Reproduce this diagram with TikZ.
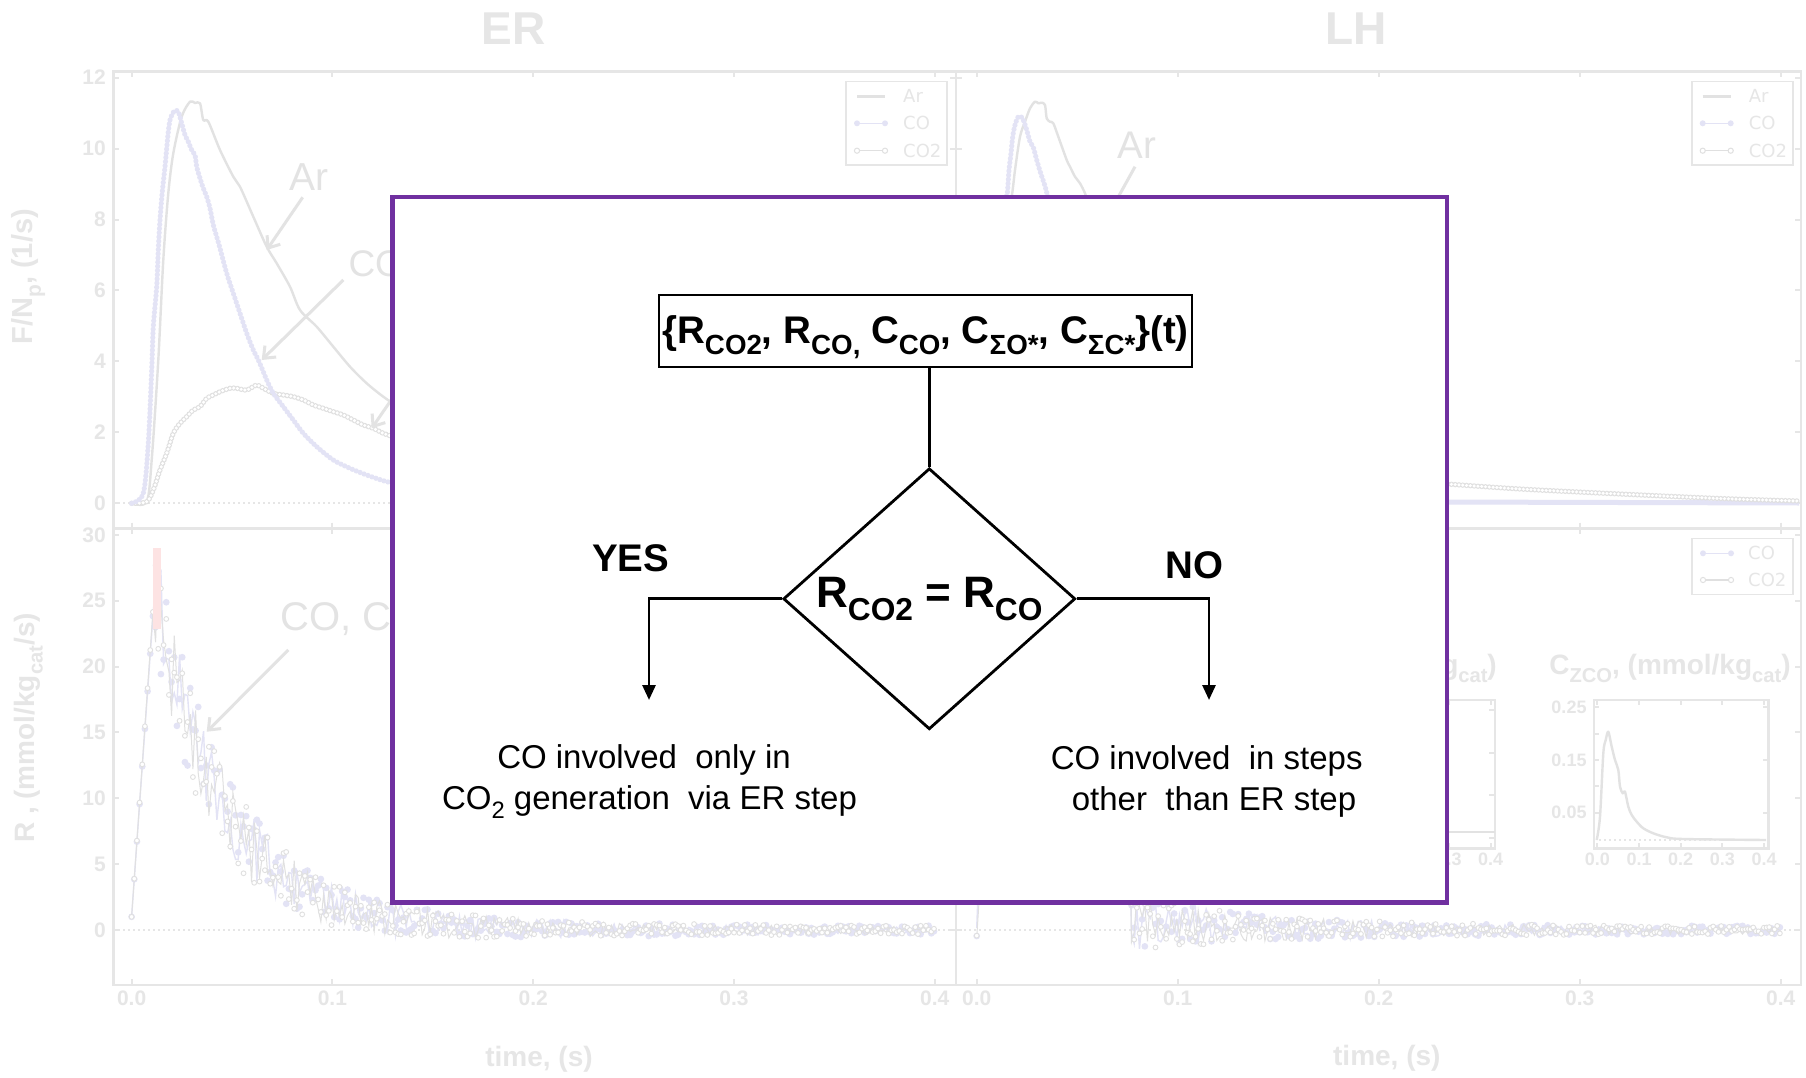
\documentclass[tikz,border=0pt]{standalone}
\usepackage{fontspec}
\usepackage{graphicx}
\setmainfont{Liberation Sans}
\newfontfamily\legendfont{DejaVu Sans}
\usetikzlibrary{arrows.meta,shapes.geometric}

\definecolor{bggray}{HTML}{E6E6E6}
\definecolor{argray}{HTML}{E2E2E2}
\definecolor{colav}{HTML}{E3E3F5}
\definecolor{co2gray}{HTML}{E0E0E0}
\definecolor{annot}{HTML}{E3E3E3}
\definecolor{pinkbar}{HTML}{FDE3E3}
\definecolor{boxpurple}{HTML}{7030A0}

\newcommand\fsz[1]{\fontsize{#1}{#1}\selectfont}
\newcommand\lo[1]{\raisebox{-0.3em}{\scalebox{0.72}{#1}}}

\begin{document}
\begin{tikzpicture}[x=1pt, y=-1pt,
  frame/.style={draw=bggray, line width=2.6pt},
  tk/.style={draw=bggray, line width=2pt},
  tlab/.style={text=bggray, font=\bfseries\fsz{21}, inner sep=0pt},
  axlab/.style={text=bggray, font=\bfseries\fsz{29}, inner sep=0pt},
  zeroline/.style={draw=bggray, line width=2pt, dash pattern=on 1.6pt off 3.4pt},
  arline/.style={draw=argray, line width=2.4pt, line join=round},
  coline/.style={draw=colav, line width=1.4pt},
  co2line/.style={draw=co2gray, line width=1pt},
  codots/.style={postaction={draw=colav, line width=5.2pt, line cap=round, dash pattern=on 0pt off 4.2pt}},
  co2dots/.style={postaction={draw=co2gray, line width=5.4pt, line cap=round, dash pattern=on 0pt off 3.8pt},
                  postaction={draw=white, line width=3.4pt, line cap=round, dash pattern=on 0pt off 3.8pt}},
  annotext/.style={text=annot, inner sep=0pt, anchor=base west},
  annarrow/.style={draw=annot, line width=3pt, -{Straight Barb[length=10pt,width=16pt]}},
  legtext/.style={text=bggray, font=\legendfont\fsz{18}, anchor=west, inner sep=0pt},
  legbox/.style={draw=bggray, line width=1.6pt},
  comark/.style={mark=*, mark size=2.6pt, mark options={fill=colav, draw=colav}},
  co2mark/.style={mark=*, mark size=2.4pt, mark options={fill=white, draw=co2gray, line width=0.9pt}},
  flow/.style={draw=black, line width=2.8pt},
  conn/.style={draw=black, line width=2.8pt},
  tip/.style={-{Triangle[length=15pt,width=13pt]}},
  branch/.style={font=\bfseries\fsz{38.5}, inner sep=0pt, anchor=base},
  outcome/.style={font=\fsz{33}, inner sep=0pt, anchor=base}
]
\useasboundingbox (0,0) rectangle (1806,1078);
\fill[white] (0,0) rectangle (1806,1078);

% ---------- plot titles ----------
\node[text=bggray, font=\bfseries\fsz{46}] (tER) at (513.7,28.8) {ER};
\node[text=bggray, font=\bfseries\fsz{46}] (tLH) at (1355.7,28.8) {LH};

% ---------- frames ----------
\draw[frame] (113.3,71.7) rectangle (1801,984.8);
\draw[frame] (113.3,528.3) -- (1801,528.3);
\draw[frame] (956,71.7) -- (956,984.8);

% y ticks, upper panels
\foreach \v in {0,2,4,6,8,10,12} {
  \pgfmathsetmacro\yy{503.3-35.47*\v}
  \draw[tk] (113.3,\yy) -- (119,\yy);
  \draw[tk] (950,\yy) -- (962,\yy);
  \draw[tk] (1795,\yy) -- (1801,\yy);
  \node[tlab, anchor=east] (yu\v) at (106,\yy) {\v};
}
% y ticks, lower panels
\foreach \v in {0,5,10,15,20,25,30} {
  \pgfmathsetmacro\yy{930-13.17*\v}
  \draw[tk] (113.3,\yy) -- (119,\yy);
  \draw[tk] (950,\yy) -- (962,\yy);
  \draw[tk] (1795,\yy) -- (1801,\yy);
  \node[tlab, anchor=east] (yl\v) at (106,\yy) {\v};
}
% x ticks and labels
\foreach \k/\lab in {0/0.0,1/0.1,2/0.2,3/0.3,4/0.4} {
  \pgfmathsetmacro\xa{131.6+200.8*\k}
  \pgfmathsetmacro\xb{976.7+201*\k}
  \foreach \xx in {\xa,\xb} {
    \draw[tk] (\xx,71.7) -- (\xx,77);
    \draw[tk] (\xx,522.5) -- (\xx,534);
    \draw[tk] (\xx,979) -- (\xx,984.8);
  }
  \node[tlab] (xl\k) at (\xa,998.7) {\lab};
  \node[tlab] (xr\k) at (\xb,998.7) {\lab};
}

% axis titles
\node[axlab, rotate=90] (yaxu) at (28.3,276.7) {F/N\lo{p}, (1/s)};
\node[axlab, rotate=90, font=\bfseries\fsz{28}] (yaxl) at (28.3,728) {R , (mmol/kg\lo{cat}/s)};
\node[axlab, font=\bfseries\fsz{28}] (xaxl) at (539,1059.7) {time, (s)};
\node[axlab, font=\bfseries\fsz{28}] (xaxr) at (1386.8,1058) {time, (s)};

% zero lines
\draw[zeroline] (118,503.3) -- (953,503.3);
\draw[zeroline] (959,503.3) -- (1798,503.3);
\draw[zeroline] (118,930) -- (953,930);
\draw[zeroline] (959,930) -- (1798,930);

% ---------- upper left: Ar, CO, CO2 ----------
\draw[arline] plot[smooth, tension=0.5] coordinates {(131.7,503.3) (146.7,501.7) (151.7,460) (158.3,360) (163.3,260) (168.3,193.3) (173.3,153.3) (181.7,116.7) (190,101.7) (195,103) (200,103.3) (203.3,120) (208.3,121.7) (220,150) (233.3,176.7) (240,186.7) (253.3,216.7) (266.7,246.7) (276.7,263.3) (290,286.7) (300,310) (316.7,326.7) (333.3,346.7) (350,366.7) (366.7,383.3) (383.3,396.7) (400,408) (420,420)};
\draw[co2line, co2dots] plot[smooth, tension=0.5] coordinates {(131.7,503.3) (146.7,501.7) (153.3,490) (160,470) (166.7,453.3) (173.3,433.3) (180,423.3) (186.7,416.7) (193.3,410) (200,406.7) (206.7,398.3) (213.3,395) (220,391.7) (230,388.3) (236.7,388.3) (246.7,390) (256.7,385) (263.3,388.3) (273.3,393.3) (283.3,395) (293.3,396.7) (303.3,400) (313.3,405) (323.3,408.3) (333.3,411.7) (343.3,415) (353.3,420) (363.3,425) (373.3,428.3) (383.3,433.3) (393.3,436.7) (410,441)};
\draw[coline, codots] plot[smooth, tension=0.5] coordinates {(131.7,503.3) (143.3,493.3) (148.3,443.3) (151.7,370) (153.3,326.7) (156.7,286.7) (158.3,250) (160,220) (162.3,191.7) (165,166.7) (166.7,148.3) (168.3,131.7) (170,120) (172.7,113.3) (175,110.7) (178.3,111.7) (181.7,123.3) (185,135) (188.3,141.7) (191.7,150) (195,155) (196.7,166.7) (200,178.3) (203.3,188.3) (206.7,196.7) (210,208.3) (213.3,225) (216.7,236.7) (220,248.3) (226.7,273.3) (233.3,293.3) (240,313.3) (246.7,333.3) (253.3,350) (258.3,360) (263.3,371.7) (266.7,380) (273.3,393.3) (283.3,406.7) (293.3,420) (303.3,433.3) (316.7,446.7) (333.3,460) (350,468.3) (366.7,475) (383.3,480.7) (393.3,483.3) (410,488.3)};

% ---------- upper right: Ar, CO ----------
\draw[arline] plot[smooth, tension=0.5] coordinates {(1005,230) (1011.7,196.7) (1015,170) (1020,136.7) (1025,121.7) (1030,108.3) (1035,101.7) (1038.3,103.3) (1041.7,102.7) (1045,105) (1046.7,118.3) (1050,121.7) (1053.3,123.3) (1058.3,136.7) (1066.7,160) (1070,166.7) (1075,176.7) (1080,183.3) (1085,193.3) (1088.3,203.3) (1095,220)};
\draw[coline, codots] plot[smooth, tension=0.5] coordinates {(1003,225) (1005,200) (1007.3,193.3) (1009,170) (1011,153.3) (1012.7,136.7) (1015,125) (1018.3,116.7) (1021.7,117.3) (1024,121.7) (1026.7,130) (1030,141.7) (1033.3,147.3) (1036.7,160) (1040.7,173.3) (1045,186) (1047.3,195) (1050,203.3) (1054,215)};
\draw[colav, line width=5pt] (1440,502) -- (1799,503);
\draw[co2line, co2dots] plot[smooth] coordinates {(1440,483.5) (1520,489) (1620,494) (1720,498.5) (1798,501)};

% ---------- lower panels: rates ----------
\pgfmathsetseed{31}
\draw[coline, comark] plot[variable=\t, domain=0:0.4, samples=300]
  ({131.6+2008*\t}, {930-13.17*(ifthenelse(\t<0.011, 1+2150*\t, 25.5*exp(-(\t-0.011)/0.035)) + ifthenelse(\t<0.011, 0, (0.3+4.2*exp(-(\t-0.011)/0.08))*rand))});
\draw[co2line, co2mark] plot[variable=\t, domain=0:0.4, samples=300]
  ({131.6+2008*\t}, {930-13.17*(ifthenelse(\t<0.011, 1+2180*\t, 25*exp(-(\t-0.011)/0.035)) + ifthenelse(\t<0.011, 0, (0.3+4.2*exp(-(\t-0.011)/0.08))*rand))});
\draw[coline, comark] plot[variable=\t, domain=0:0.4, samples=300]
  ({976.7+2010*\t}, {930-13.17*(ifthenelse(\t<0.004, 3000*\t, ifthenelse(\t<0.077, 12, 0.6*exp(-(\t-0.077)/0.05))) + ifthenelse(\t<0.077, 1.5, 0.3+1.8*exp(-(\t-0.077)/0.07))*rand)});
\draw[co2line, co2mark] plot[variable=\t, domain=0:0.4, samples=300]
  ({976.7+2010*\t}, {930-13.17*(ifthenelse(\t<0.004, 3000*\t, ifthenelse(\t<0.077, 12, 0.6*exp(-(\t-0.077)/0.05))) + ifthenelse(\t<0.077, 1.5, 0.3+1.8*exp(-(\t-0.077)/0.07))*rand)});
\fill[pinkbar] (153.3,547.7) rectangle (161,629.3);

% ---------- legends ----------
\foreach \bx/\nm in {846/a,1691.7/b} {
  \draw[legbox] (\bx,81.7) rectangle ({\bx+101},165);
  \draw[argray, line width=2.4pt] ({\bx+11},96.4) -- ({\bx+39},96.4);
  \draw[colav, line width=1.4pt] ({\bx+11},123.3) -- ({\bx+39},123.3);
  \fill[colav] ({\bx+11},123.3) circle (3pt) ({\bx+39},123.3) circle (3pt);
  \draw[co2gray, line width=1.2pt] ({\bx+11},150.7) -- ({\bx+39},150.7);
  \filldraw[draw=co2gray, fill=white, line width=1pt] ({\bx+11},150.7) circle (2.6pt) ({\bx+39},150.7) circle (2.6pt);
  \node[legtext] (legAr\nm) at ({\bx+57},96.4) {Ar};
  \node[legtext] (legCO\nm) at ({\bx+57},123.3) {CO};
  \node[legtext] (legCOt\nm) at ({\bx+57},150.7) {CO2};
}
\draw[legbox] (1691.7,538.3) rectangle (1792.7,594.3);
\draw[colav, line width=1.4pt] (1703,553.3) -- (1731,553.3);
\fill[colav] (1703,553.3) circle (3pt) (1731,553.3) circle (3pt);
\draw[co2gray, line width=1.2pt] (1703,580) -- (1731,580);
\filldraw[draw=co2gray, fill=white, line width=1pt] (1703,580) circle (2.6pt) (1731,580) circle (2.6pt);
\node[legtext] (legCOc) at (1748,553.3) {CO};
\node[legtext] (legCOtc) at (1748,580) {CO2};

% ---------- annotations ----------
\node[annotext, font=\fsz{39}] (annAr) at (289.3,190) {Ar};
\coordinate (annArA) at (302.7,197.3);
\coordinate (annArB) at (266.7,250);
\draw[annarrow] (annArA) -- (annArB);
\node[annotext, font=\fsz{37}] (annCO) at (348.3,276.7) {CO};
\coordinate (annCOA) at (343.3,280);
\coordinate (annCOB) at (261.7,360);
\draw[annarrow] (annCOA) -- (annCOB);
\coordinate (annCOtA) at (405.7,378.9);
\coordinate (annCOtB) at (371.7,428.3);
\draw[annarrow] (annCOtA) -- (annCOtB);
\node[annotext, font=\fsz{40}] (annR) at (280,630) {CO, CO\lo{2}};
\coordinate (annRA) at (288.3,650);
\coordinate (annRB) at (206.7,731.7);
\draw[annarrow] (annRA) -- (annRB);
\node[annotext, font=\fsz{38.5}] (annAr2) at (1117.7,158.3) {Ar};
\coordinate (annAr2A) at (1135,166.7);
\coordinate (annAr2B) at (1100,230);
\draw[annarrow] (annAr2A) -- (annAr2B);

% ---------- insets ----------
\draw[frame, line width=2.4pt] (1430,700) -- (1495,700) -- (1495,848.3) -- (1430,848.3);
\foreach \yy in {710,753.3,795,838.3} \draw[tk] (1489,\yy) -- (1495,\yy);
\foreach \xx in {1449,1490.7} {
  \draw[tk] (\xx,700) -- (\xx,705);
  \draw[tk] (\xx,843) -- (\xx,848.3);
}
\draw[draw=argray, line width=2.4pt] (1430,831.7) -- (1495,831.7);
\node[tlab, font=\bfseries\fsz{18}] (inAx3) at (1449,859.3) {0.3};
\node[tlab, font=\bfseries\fsz{18}] (inAx4) at (1490.7,859.3) {0.4};
\node[axlab, anchor=east, font=\bfseries\fsz{28}] (inAt) at (1497,668.3) {(mmol/kg\lo{cat})};

\draw[frame, line width=2.4pt] (1594,700) rectangle (1768.3,848.3);
\foreach \k/\lab in {0/0.0,1/0.1,2/0.2,3/0.3,4/0.4} {
  \pgfmathsetmacro\xx{1597.3+41.7*\k}
  \draw[tk] (\xx,700) -- (\xx,705);
  \draw[tk] (\xx,843) -- (\xx,848.3);
  \node[tlab, font=\bfseries\fsz{18}] (inBx\k) at (\xx,859.3) {\lab};
}
\foreach \yy/\lab/\nm in {707.3/0.25/a,760/0.15/b,812.7/0.05/c} {
  \draw[tk] (1594,\yy) -- (1599,\yy);
  \draw[tk] (1763,\yy) -- (1768.3,\yy);
  \node[tlab, anchor=east, font=\bfseries\fsz{18}] (inBy\nm) at (1586.7,\yy) {\lab};
}
\foreach \yy in {733.7,786.3} \draw[tk] (1594,\yy) -- (1599,\yy);
\draw[zeroline] (1599,840) -- (1766,840);
\draw[arline] plot[smooth, tension=0.5] coordinates {(1596.7,840) (1600,816.7) (1603.3,753.3) (1605.7,740) (1608.3,731.7) (1611.7,746.7) (1615,760) (1618.3,770) (1620,786.7) (1622.7,793.3) (1625,791.7) (1628.3,806.7) (1631.7,815) (1636.7,821.7) (1643.3,828.3) (1653.3,833.3) (1666.7,837.3) (1683.3,839) (1766,840)};
\node[axlab, font=\bfseries\fsz{28}] (inBt) at (1670,668.3) {C\lo{ZCO}, (mmol/kg\lo{cat})};

% ---------- decision panel ----------
\node[draw=boxpurple, fill=white, line width=4.5pt, minimum width=1054.5, minimum height=705.6, inner sep=0pt] (panel) at (919.75,549.8) {};

\node[flow, minimum width=533, minimum height=72, inner sep=0pt, font=\bfseries\fsz{38.5}, text height=25pt, text depth=0.8pt] (src) at (925.5,331)
  {\{R\lo{CO2}, R\lo{CO,} C\lo{CO}, C\lo{ΣO*}, C\lo{ΣC*}\}(t)};
\node[flow, shape=diamond, minimum width=292, minimum height=261, inner sep=0pt, font=\bfseries\fsz{44}, text height=16.9pt, text depth=0.5pt] (dec) at (929.3,598.8)
  {R\lo{CO2} = R\lo{CO}};
\coordinate (yesend) at (649,700);
\coordinate (noend) at (1209,700);
\draw[conn] (dec.north |- src.south) -- (dec.north);
\draw[conn, tip] (dec.west) -| (yesend);
\draw[conn, tip] (dec.east) -| (noend);

\node[branch] (yes) at (630.7,571.6) {YES};
\node[branch] (no) at (1194.6,578.7) {NO};

\node[outcome] (yes1) at (644,768) {CO involved\ \ only in};
\node[outcome] (yes2) at (649.5,809) {CO\lo{2} generation\ \ via ER step};
\node[outcome] (no1) at (1206.7,769) {CO involved\ \ in steps};
\node[outcome] (no2) at (1214,810) {other\ \ than ER step};
\end{tikzpicture}
\end{document}
